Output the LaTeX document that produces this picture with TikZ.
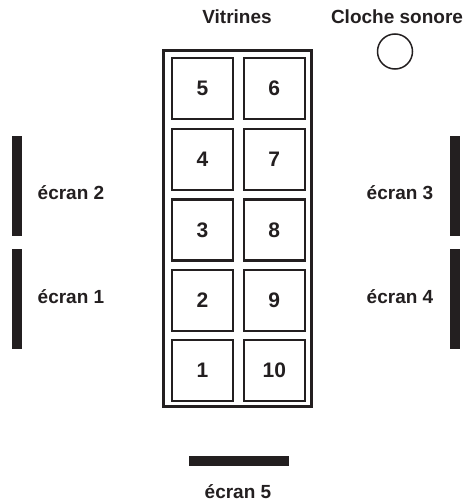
\documentclass[tikz,border=0pt]{standalone}
\usepackage{fontspec}
\setmainfont{Liberation Sans}
\definecolor{ink}{HTML}{231F20}
\begin{document}
\begin{tikzpicture}[x=1pt,y=-1pt,
  vbox/.style={draw=ink,line width=2.3pt,minimum width=61pt,minimum height=61pt,inner sep=0pt,font=\bfseries\fontsize{21}{21}\selectfont,text=ink},
  lbl/.style={font=\bfseries\fontsize{19}{19}\selectfont,text=ink,inner sep=0pt},
  screen/.style={fill=ink,draw=none}]
\useasboundingbox (0,0) rectangle (468,503);
\node[draw=ink,line width=2.3pt,minimum width=148pt,minimum height=356pt,inner sep=0pt] (frame) at (237.5,228.5) {};
\node[vbox] (b5) at (202.4,88.7) {5};
\node[vbox] (b6) at (274.3,88.7) {6};
\node[vbox] (b4) at (202.4,159.5) {4};
\node[vbox] (b7) at (274.3,159.5) {7};
\node[vbox] (b3) at (202.4,230) {3};
\node[vbox] (b8) at (274.3,230) {8};
\node[vbox] (b2) at (202.4,300.3) {2};
\node[vbox] (b9) at (274.3,300.3) {9};
\node[vbox] (b1) at (202.4,370.5) {1};
\node[vbox] (b10) at (274.3,370.5) {10};
\node[lbl] (vit) at (237,17) {Vitrines};
\node[lbl] (cloche) at (397,17) {Cloche sonore};
\node[draw=ink,line width=1.5pt,circle,minimum size=35pt,inner sep=0pt] (bell) at (395,51.5) {};
\fill[ink] (12,136) rectangle (22,236);
\fill[ink] (12,249) rectangle (22,349);
\fill[ink] (450,136) rectangle (460,236);
\fill[ink] (450,249) rectangle (460,349);
\fill[ink] (189,456) rectangle (289,466);
\node[lbl] (e2) at (71,193) {écran 2};
\node[lbl] (e1) at (71,297) {écran 1};
\node[lbl] (e3) at (400,193) {écran 3};
\node[lbl] (e4) at (400,297) {écran 4};
\node[lbl] (e5) at (238,492) {écran 5};
\end{tikzpicture}
\end{document}
